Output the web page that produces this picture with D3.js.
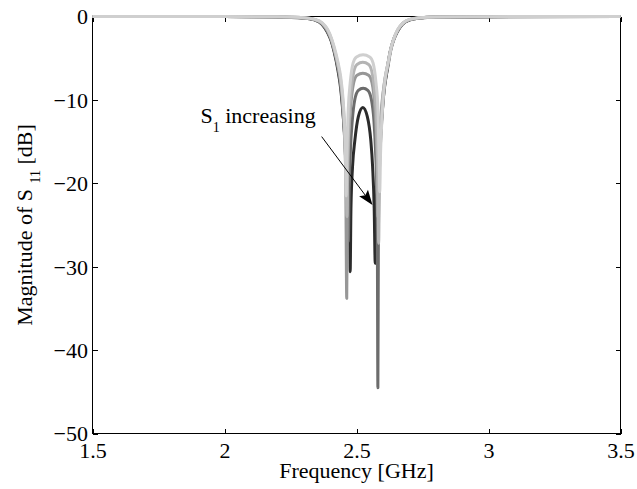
<!DOCTYPE html>
<html>
<head>
<meta charset="utf-8">
<script src="https://cdn.jsdelivr.net/npm/d3@7"></script>
<style>
  body { margin: 0; background: #fff; }
  svg { display: block; }
  text { font-family: "Liberation Serif", "Times New Roman", serif; font-size: 22px; fill: #000; white-space: pre; }
</style>
</head>
<body>
<svg id="chart" width="637" height="489"></svg>
<script>
// Axis ticks and labels
const xTickValues = [1.5, 2, 2.5, 3, 3.5];
const xTickLabels = ["1.5", "2", "2.5", "3", "3.5"];
const yTickValues = [0, -10, -20, -30, -40, -50];
const yTickLabels = ["0", "\u221210", "\u221220", "\u221230", "\u221240", "\u221250"];

// |S11| in dB versus frequency in GHz, one array per S1 setting
const s11SweepA = [[1.5,0],[2.0,-0.01],[2.2,-0.04],[2.3,-0.14],[2.34,-0.32],[2.37,-0.75],[2.39,-1.5],[2.405,-2.6],[2.415,-3.6],[2.43,-5.5],[2.44,-7.2],[2.448,-9.5],[2.454,-12.5],[2.458,-16.5],[2.461,-21.5],[2.464,-16],[2.469,-11],[2.476,-8],[2.487,-5.6],[2.5,-4.85],[2.525,-4.6],[2.55,-4.85],[2.563,-5.6],[2.574,-8],[2.581,-11],[2.585,-16],[2.588,-21],[2.591,-16.5],[2.596,-12.5],[2.602,-9.5],[2.61,-7.2],[2.62,-5.5],[2.632,-3.6],[2.642,-2.6],[2.657,-1.5],[2.677,-0.75],[2.7,-0.35],[2.74,-0.15],[2.8,-0.06],[3.0,-0.015],[3.5,0]];
const s11SweepB = [[1.5,0],[2.0,-0.01],[2.2,-0.04],[2.3,-0.15],[2.34,-0.34],[2.37,-0.8],[2.39,-1.6],[2.405,-2.7],[2.415,-3.8],[2.43,-5.8],[2.44,-7.6],[2.448,-10],[2.455,-13.5],[2.46,-18],[2.464,-24],[2.467,-17.5],[2.472,-12.5],[2.479,-9.2],[2.49,-6.6],[2.502,-5.75],[2.524,-5.5],[2.546,-5.75],[2.558,-6.6],[2.569,-9.2],[2.576,-12.5],[2.58,-17.5],[2.584,-27.2],[2.587,-18],[2.592,-13.5],[2.599,-10],[2.607,-7.6],[2.618,-5.8],[2.631,-3.8],[2.641,-2.7],[2.656,-1.6],[2.676,-0.8],[2.7,-0.37],[2.74,-0.16],[2.8,-0.06],[3.0,-0.015],[3.5,0]];
const s11SweepC = [[1.5,0],[2.0,-0.01],[2.2,-0.045],[2.3,-0.16],[2.34,-0.36],[2.37,-0.85],[2.39,-1.7],[2.405,-2.8],[2.415,-3.9],[2.43,-6.0],[2.44,-7.9],[2.448,-10.5],[2.454,-14],[2.459,-19],[2.463,-33.8],[2.466,-20],[2.471,-14.5],[2.478,-10.8],[2.489,-8.0],[2.502,-7.05],[2.524,-6.8],[2.546,-7.05],[2.559,-8.0],[2.569,-10.8],[2.575,-14.5],[2.578,-18],[2.58,-24],[2.583,-18.5],[2.589,-13.5],[2.597,-10.2],[2.606,-7.9],[2.617,-6.0],[2.63,-3.9],[2.64,-2.8],[2.655,-1.7],[2.675,-0.85],[2.7,-0.38],[2.74,-0.17],[2.8,-0.065],[3.0,-0.016],[3.5,0]];
const s11SweepD = [[1.5,0],[2.0,-0.011],[2.2,-0.045],[2.3,-0.17],[2.34,-0.38],[2.37,-0.9],[2.39,-1.8],[2.405,-2.9],[2.415,-4.0],[2.43,-6.2],[2.44,-8.2],[2.448,-11],[2.455,-14.5],[2.461,-18.5],[2.466,-22],[2.469,-27],[2.472,-21],[2.477,-16],[2.484,-12.5],[2.494,-9.9],[2.507,-8.85],[2.525,-8.6],[2.543,-8.85],[2.556,-9.9],[2.566,-12.5],[2.572,-16],[2.577,-21],[2.579,-27],[2.581,-44.5],[2.583,-26],[2.587,-18.5],[2.593,-14],[2.6,-10.5],[2.607,-8.2],[2.618,-6.2],[2.63,-4.0],[2.64,-2.9],[2.655,-1.8],[2.675,-0.9],[2.7,-0.4],[2.74,-0.18],[2.8,-0.07],[3.0,-0.017],[3.5,0]];
const s11SweepE = [[1.5,0],[2.0,-0.012],[2.2,-0.05],[2.3,-0.18],[2.34,-0.4],[2.37,-0.95],[2.39,-1.9],[2.405,-3.0],[2.415,-4.2],[2.43,-6.5],[2.44,-8.6],[2.448,-11.3],[2.456,-14.5],[2.464,-17.5],[2.47,-21],[2.474,-25],[2.476,-30.6],[2.479,-23],[2.485,-18],[2.494,-14.8],[2.507,-12],[2.524,-10.9],[2.541,-12],[2.554,-14.8],[2.561,-18],[2.567,-23],[2.571,-29.6],[2.574,-24],[2.579,-20],[2.587,-16],[2.596,-12],[2.604,-9],[2.614,-6.8],[2.627,-4.3],[2.638,-3.0],[2.653,-1.9],[2.673,-0.95],[2.7,-0.42],[2.74,-0.19],[2.8,-0.075],[3.0,-0.018],[3.5,0]];

// Annotation anchor points, in data units (GHz, dB)
const noteTextAt = [1.909, -12.8];
const noteArrowFrom = [2.368, -14.4];
const noteArrowTo = [2.5606, -22.6];

// Drawing order: darkest first, lightest on top
const sweeps = [s11SweepE, s11SweepD, s11SweepC, s11SweepB, s11SweepA];
const sweepShades = ["#2b2b2b", "#6c6c6c", "#979797", "#b4b4b4", "#cfcfcf"];

const svg = d3.select("#chart");
const x = d3.scaleLinear().domain([1.5, 3.5]).range([92.5, 620.5]);
const y = d3.scaleLinear().domain([-50, 0]).range([433.5, 16.5]);
const tickLen = 5;

// Box
svg.append("rect")
  .attr("x", x.range()[0]).attr("y", y.range()[1])
  .attr("width", x.range()[1] - x.range()[0])
  .attr("height", y.range()[0] - y.range()[1])
  .attr("fill", "none").attr("stroke", "#000").attr("stroke-width", 1)
  .attr("shape-rendering", "crispEdges");

function styleAxis(g) {
  g.select(".domain").remove();
  g.selectAll(".tick line").attr("stroke", "#000").attr("shape-rendering", "crispEdges");
  g.attr("font-family", null).attr("font-size", null);
  g.selectAll("text").attr("fill", "#000");
}

svg.append("g").attr("transform", `translate(0,${y(-50)})`)
  .call(d3.axisBottom(x).tickValues(xTickValues).tickSize(-tickLen).tickPadding(9)
    .tickFormat((d, i) => xTickLabels[i]))
  .call(styleAxis);
svg.append("g").attr("transform", `translate(0,${y(0)})`)
  .call(d3.axisTop(x).tickValues(xTickValues).tickSize(-tickLen).tickFormat(""))
  .call(styleAxis);
svg.append("g").attr("transform", `translate(${x(1.5)},0)`)
  .call(d3.axisLeft(y).tickValues(yTickValues).tickSize(-tickLen).tickPadding(4.5)
    .tickFormat((d, i) => yTickLabels[i]))
  .call(styleAxis)
  .selectAll("text").attr("dy", "0.34em");
svg.append("g").attr("transform", `translate(${x(3.5)},0)`)
  .call(d3.axisRight(y).tickValues(yTickValues).tickSize(-tickLen).tickFormat(""))
  .call(styleAxis);

// Response curves
const line = d3.line()
  .x(d => x(d[0]))
  .y(d => y(d[1]))
  .curve(d3.curveMonotoneX);

svg.append("g").selectAll("path")
  .data(sweeps)
  .join("path")
  .attr("d", line)
  .attr("fill", "none")
  .attr("stroke", (d, i) => sweepShades[i])
  .attr("stroke-width", 3)
  .attr("stroke-linejoin", "round");

// Axis titles
svg.append("text")
  .attr("x", (x.range()[0] + x.range()[1]) / 2)
  .attr("y", 478)
  .attr("text-anchor", "middle")
  .text("Frequency [GHz]");

const yTitle = svg.append("text")
  .attr("transform", `translate(32,${(y.range()[0] + y.range()[1]) / 2}) rotate(-90)`)
  .attr("text-anchor", "middle");
yTitle.append("tspan").text("Magnitude of S ");
yTitle.append("tspan").attr("dy", 8).attr("font-size", 14).text("11");
yTitle.append("tspan").attr("dy", -8).text(" [dB]");

// Annotation
const note = svg.append("text")
  .attr("x", x(noteTextAt[0]))
  .attr("y", y(noteTextAt[1]));
note.append("tspan").text("S");
note.append("tspan").attr("dy", 8.4).attr("font-size", 14).text("1");
note.append("tspan").attr("dy", -8.4).text(" increasing");

const ax0 = x(noteArrowFrom[0]), ay0 = y(noteArrowFrom[1]);
const ax1 = x(noteArrowTo[0]), ay1 = y(noteArrowTo[1]);
const len = Math.hypot(ax1 - ax0, ay1 - ay0);
const ux = (ax1 - ax0) / len, uy = (ay1 - ay0) / len;
const headLen = 15, headHalf = 5.5, notch = 3;
const bx = ax1 - ux * headLen, by = ay1 - uy * headLen;

svg.append("line")
  .attr("x1", ax0).attr("y1", ay0)
  .attr("x2", bx + ux * notch).attr("y2", by + uy * notch)
  .attr("stroke", "#000").attr("stroke-width", 1);

svg.append("path")
  .attr("d", d3.line()([
    [ax1, ay1],
    [bx - uy * headHalf, by + ux * headHalf],
    [bx + ux * notch, by + uy * notch],
    [bx + uy * headHalf, by - ux * headHalf]
  ]) + "Z")
  .attr("fill", "#000");
</script>
</body>
</html>
